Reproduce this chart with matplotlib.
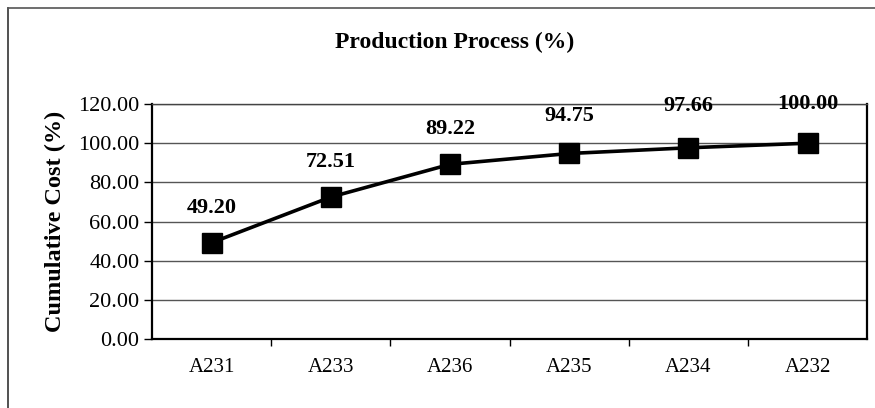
import matplotlib
matplotlib.use("Agg")
import matplotlib.pyplot as plt
from matplotlib.lines import Line2D
from matplotlib.ticker import FixedLocator, FormatStrFormatter

# cumulative cost by production step
categories = ["A231", "A233", "A236", "A235", "A234", "A232"]
cum_cost = [49.20, 72.51, 89.22, 94.75, 97.66, 100.00]
# label lift above each marker (points)
label_lift = [18, 18, 18, 20, 23, 21]

plt.rcParams["font.family"] = ["Liberation Serif", "DejaVu Serif"]

fig = plt.figure(figsize=(8.75, 4.08), dpi=100)
ax = fig.add_axes([0.1737, 0.169, 0.8175, 0.576])

x = list(range(len(categories)))
ax.plot(x, cum_cost, color="black", lw=2.6, marker="s", markersize=14,
        markerfacecolor="black", markeredgecolor="black", zorder=3)

for xi, v, dy in zip(x, cum_cost, label_lift):
    ax.annotate(f"{v:.2f}", (xi, v), xytext=(0, dy), textcoords="offset points",
                ha="center", va="bottom", fontsize=16, fontweight="bold",
                annotation_clip=False, zorder=4)

ax.set_xlim(-0.5, len(categories) - 0.5)
ax.set_ylim(0, 120)
ax.set_yticks(range(0, 121, 20))
ax.yaxis.set_major_formatter(FormatStrFormatter("%.2f"))
ax.yaxis.grid(True, color="#555555", lw=1.0)
ax.set_axisbelow(True)

ax.set_xticks(x)
ax.set_xticklabels(categories)
ax.xaxis.set_minor_locator(FixedLocator([i + 0.5 for i in x[:-1]]))
ax.tick_params(axis="x", which="major", length=0, pad=14, labelsize=15)
ax.tick_params(axis="x", which="minor", length=5, direction="out", width=1)
ax.tick_params(axis="y", length=6, direction="out", width=1, labelsize=16, pad=3)

for side in ["left", "bottom"]:
    ax.spines[side].set_linewidth(1.6)
ax.spines["top"].set_linewidth(1.0)
ax.spines["top"].set_color("#444444")
ax.spines["right"].set_linewidth(1.6)

ax.set_ylabel("Cumulative Cost (%)", fontsize=17.5, fontweight="bold", labelpad=9)
fig.text(0.52, 0.897, "Production Process (%)", ha="center", va="center",
         fontsize=17, fontweight="bold")

# outer chart frame (left and top edges)
fig.add_artist(Line2D([0.0095, 0.0095], [0.0, 0.98], color="#333333", lw=1.2,
                      transform=fig.transFigure))
fig.add_artist(Line2D([0.0095, 1.0], [0.98, 0.98], color="#555555", lw=1.2,
                      transform=fig.transFigure))

fig.savefig("out.png", dpi=100, facecolor="white")
